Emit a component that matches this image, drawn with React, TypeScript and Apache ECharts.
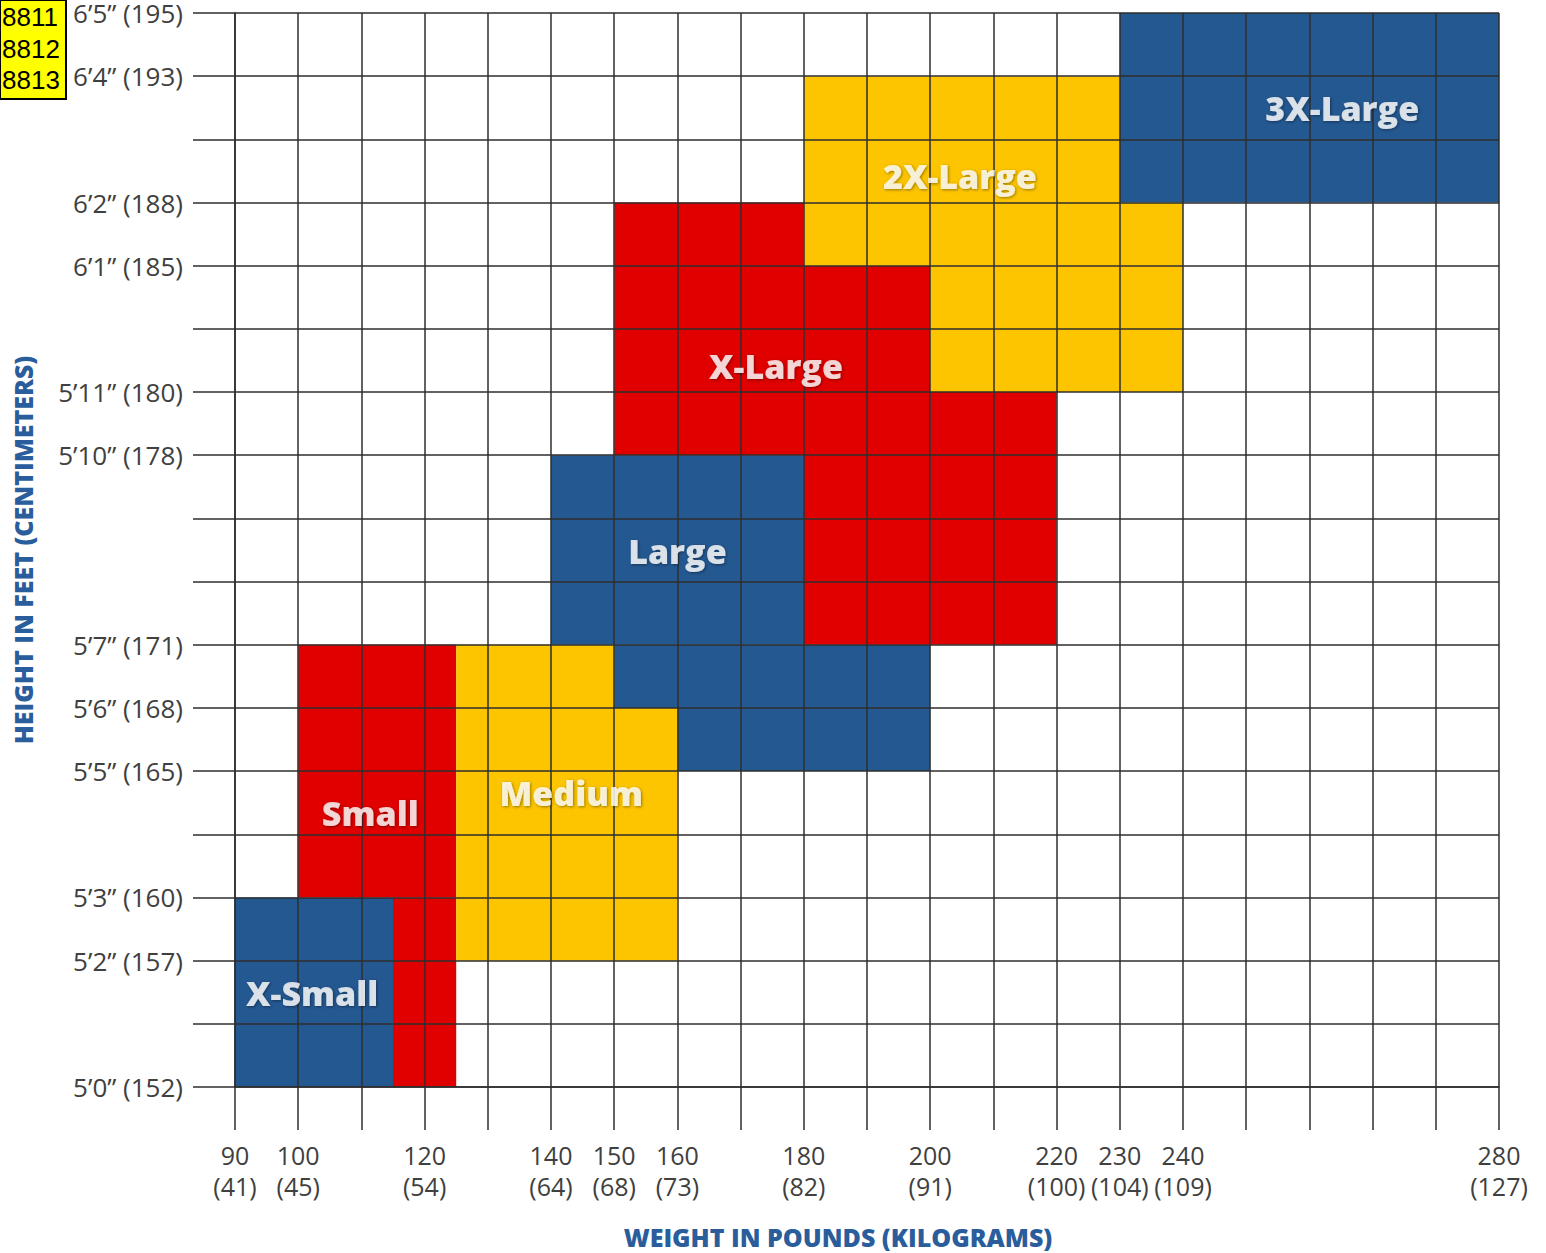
import React, { useEffect, useRef } from "react";
import * as echarts from "echarts";

// Grid column index -> weight labels (the grid is not linear in pounds)
const weightTickIndex = [0, 1, 3, 5, 6, 7, 9, 11, 13, 14, 15, 20];
const weightLbs = [90, 100, 120, 140, 150, 160, 180, 200, 220, 230, 240, 280];
const weightKg = [41, 45, 54, 64, 68, 73, 82, 91, 100, 104, 109, 127];

// Grid row index -> height labels
const heightTickIndex = [0, 2, 3, 5, 6, 7, 10, 11, 13, 14, 16, 17];
const heightFeet = ["5’0”", "5’2”", "5’3”", "5’5”", "5’6”", "5’7”", "5’10”", "5’11”", "6’1”", "6’2”", "6’4”", "6’5”"];
const heightCm = [152, 157, 160, 165, 168, 171, 178, 180, 185, 188, 193, 195];

// Size regions: [x0, x1, y0, y1] in grid units
const sizeNames = ["X-Small", "Small", "Medium", "Large", "X-Large", "2X-Large", "3X-Large"];
const xSmallRects = [[0, 2.5, 0, 3]];
const smallRects = [[1, 3.5, 3, 7], [2.5, 3.5, 0, 3]];
const mediumRects = [[3.5, 6, 2, 7], [6, 7, 2, 6]];
const largeRects = [[5, 9, 7, 10], [6, 11, 6, 7], [7, 11, 5, 6]];
const xLargeRects = [[6, 9, 10, 14], [9, 11, 7, 13], [11, 13, 7, 11]];
const x2LargeRects = [[9, 14, 13, 16], [11, 15, 11, 13], [14, 15, 13, 14]];
const x3LargeRects = [[14, 20, 14, 17]];
const sizeRects = [xSmallRects, smallRects, mediumRects, largeRects, xLargeRects, x2LargeRects, x3LargeRects];

// Label anchor positions (grid units)
const labelX = [1.22, 2.14, 5.32, 7.0, 8.56, 11.47, 17.52];
const labelY = [1.48, 4.34, 4.65, 8.49, 11.42, 14.42, 15.49];

const BLUE = "#245891";
const RED = "#e00000";
const YELLOW = "#fdc500";
const sizeColors = [BLUE, RED, YELLOW, BLUE, RED, YELLOW, BLUE];

const GRID_COLOR = "#2e2e2e";
const LABEL_COLOR = "#404040";
const AXIS_NAME_COLOR = "#2a5d9b";

export default function App() {
  const ref = useRef<HTMLDivElement>(null);

  useEffect(() => {
    document.body.style.margin = "0";
    const chart = echarts.init(ref.current!, null, { renderer: "svg" });

    const rectSeries = sizeRects.map((rects, i) => ({
      type: "custom",
      name: sizeNames[i],
      z: 2,
      data: rects,
      encode: { x: [0, 1], y: [2, 3] },
      renderItem: (params: any, api: any) => {
        const p0 = api.coord([api.value(0), api.value(3)]);
        const p1 = api.coord([api.value(1), api.value(2)]);
        return {
          type: "rect",
          shape: { x: p0[0], y: p0[1], width: p1[0] - p0[0], height: p1[1] - p0[1] },
          style: { fill: sizeColors[i] },
        };
      },
    }));

    const labelSeries = {
      type: "scatter",
      z: 20,
      symbolSize: 0,
      data: sizeNames.map((n, i) => ({ value: [labelX[i], labelY[i]], name: n })),
      label: {
        show: true,
        position: "inside",
        formatter: (p: any) => p.name,
        color: "#ffffff",
        fontFamily: "Open Sans",
        fontWeight: 800,
        fontSize: 34,
        textShadowColor: "rgba(0,0,0,0.5)",
        textShadowBlur: 3,
        textShadowOffsetX: 1,
        textShadowOffsetY: 1,
      },
      silent: true,
    };

    const lineStyle = { color: GRID_COLOR, width: 1.5 };

    chart.setOption({
      animation: false,
      backgroundColor: "#ffffff",
      grid: { left: 235, right: 47, top: 13, bottom: 166, containLabel: false, outerBoundsMode: "none" },
      xAxis: {
        type: "value",
        min: 0,
        max: 20,
        interval: 1,
        z: 10,
        axisLine: { show: true, lineStyle },
        axisTick: { show: true, length: 43, lineStyle },
        splitLine: { show: true, lineStyle },
        axisLabel: {
          margin: 52,
          color: LABEL_COLOR,
          fontFamily: "Open Sans",
          fontSize: 25,
          lineHeight: 31,
          formatter: (v: number) => {
            const k = weightTickIndex.indexOf(Math.round(v));
            return k >= 0 ? `${weightLbs[k]}\n(${weightKg[k]})` : "";
          },
        },
      },
      yAxis: {
        type: "value",
        min: 0,
        max: 17,
        interval: 1,
        z: 10,
        name: "HEIGHT IN FEET (CENTIMETERS)",
        nameLocation: "middle",
        nameGap: 200,
        nameRotate: 90,
        nameTextStyle: {
          color: AXIS_NAME_COLOR,
          fontFamily: "Open Sans",
          fontWeight: 800,
          fontSize: 25,
        },
        axisLine: { show: true, lineStyle },
        axisTick: { show: true, length: 42, lineStyle },
        splitLine: { show: true, lineStyle },
        axisLabel: {
          margin: 52,
          color: LABEL_COLOR,
          fontFamily: "Open Sans",
          fontSize: 26,
          formatter: (v: number) => {
            const k = heightTickIndex.indexOf(Math.round(v));
            return k >= 0 ? `${heightFeet[k]} (${heightCm[k]})` : "";
          },
        },
      },
      graphic: [
        {
          type: "text",
          x: 838,
          y: 1237,
          style: {
            text: "WEIGHT IN POUNDS (KILOGRAMS)",
            fill: AXIS_NAME_COLOR,
            font: "800 25px 'Open Sans'",
            textAlign: "center",
            textVerticalAlign: "middle",
          },
        },
        {
          type: "group",
          x: 0,
          y: 0,
          z: 100,
          children: [
            { type: "rect", shape: { x: 0, y: 0, width: 66, height: 99 }, style: { fill: "#ffff00", stroke: "#000", lineWidth: 2 } },
            { type: "text", x: 2, y: 17, style: { text: "8811", font: "26px 'Liberation Sans'", fill: "#000", textVerticalAlign: "middle" } },
            { type: "text", x: 2, y: 49, style: { text: "8812", font: "26px 'Liberation Sans'", fill: "#000", textVerticalAlign: "middle" } },
            { type: "text", x: 2, y: 80, style: { text: "8813", font: "26px 'Liberation Sans'", fill: "#000", textVerticalAlign: "middle" } },
          ],
        },
      ],
      series: [...rectSeries, labelSeries],
    });

    return () => chart.dispose();
  }, []);

  return <div ref={ref} style={{ position: "fixed", left: 0, top: 0, width: 1546, height: 1253 }} />;
}
